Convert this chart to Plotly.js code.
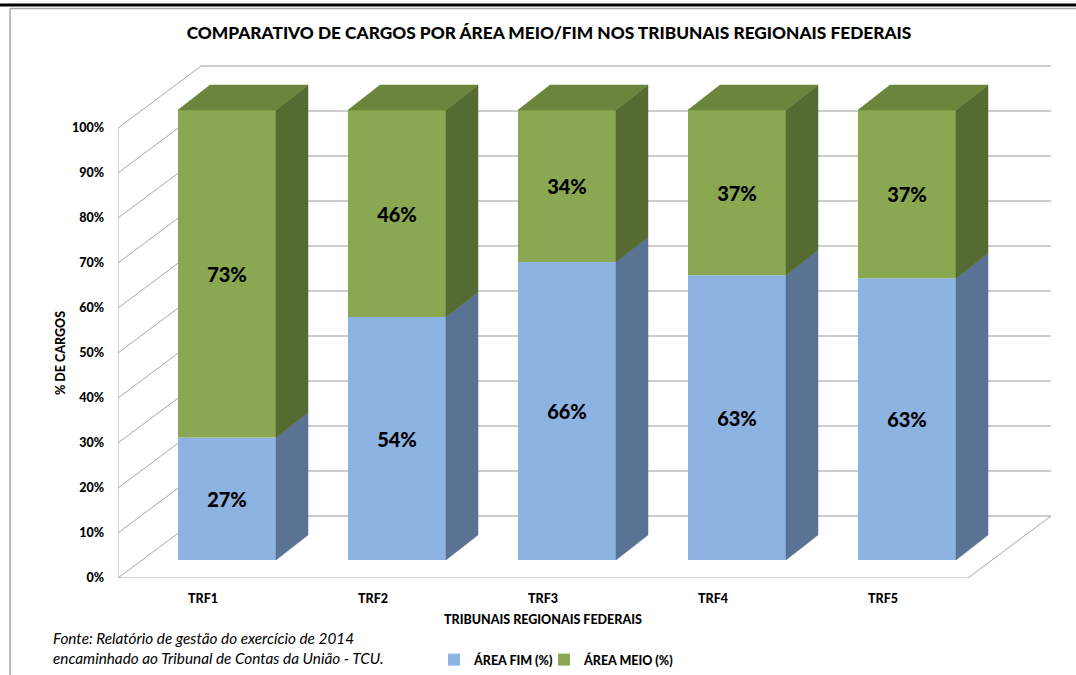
<!DOCTYPE html>
<html><head><meta charset="utf-8">
<script src="https://cdn.plot.ly/plotly-3.0.1.min.js"></script>
<style>html,body{margin:0;padding:0;background:#fff;}#chart{width:1076px;height:675px;}</style>
</head><body><div id="chart"></div>
<script>
// ---- data ----
const categories = ['TRF1', 'TRF2', 'TRF3', 'TRF4', 'TRF5'];
const areaFim = [27.2, 54.0, 66.2, 63.3, 62.6];
const areaMeio = [72.8, 46.0, 33.8, 36.7, 37.4];
const seriesNames = ['ÁREA FIM (%)', 'ÁREA MEIO (%)'];
const yTickValues = [0, 10, 20, 30, 40, 50, 60, 70, 80, 90, 100];
const yTickLabels = ['0%', '10%', '20%', '30%', '40%', '50%', '60%', '70%', '80%', '90%', '100%'];
const titleText = 'COMPARATIVO DE CARGOS POR ÁREA MEIO/FIM NOS TRIBUNAIS REGIONAIS FEDERAIS';
const xTitleText = 'TRIBUNAIS REGIONAIS FEDERAIS';
const yTitleText = '% DE CARGOS';
const sourceText = 'Fonte: Relatório de gestão do exercício de 2014<br>encaminhado ao Tribunal de Contas da União - TCU.';

// ---- layout geometry (styling) ----
const W = 1076, H = 675;
const M = {l: 118, r: 24, t: 65, b: 97};
const plotW = W - M.l - M.r, plotH = H - M.t - M.b;
const PX_CAT = 170, PX_PCT = 4.5;
const DEPTH_X = 83 / PX_CAT, DEPTH_Y = 62 / PX_PCT;       // wall depth
const FRONT_X = 24 / PX_CAT, FRONT_Y = 18 / PX_PCT;       // bar front plane
const BDX = 32 / PX_CAT, BDY = 25 / PX_PCT;               // bar depth
const BAR_W = 98 / PX_CAT;
const nCat = categories.length;
const xMax = plotW / PX_CAT, yMax = plotH / PX_PCT;
const px2paperX = p => (p - M.l) / plotW;
const px2paperY = p => (H - M.b - p) / plotH;

const colFimFront = '#8db3e2', colFimSide = '#5a7394';
const colMeioFront = '#8aa752', colMeioSide = '#566b31', colMeioTop = '#6c843b';
const FONT = 'Lato, "Open Sans", sans-serif';

const xCenters = categories.map((c, i) => i + 0.5);
const barX = xCenters.map(x => x + FRONT_X);
const fimBase = categories.map(() => FRONT_Y);
const meioBase = areaFim.map(v => FRONT_Y + v);
const pct = v => Math.round(v) + '%';

// ---- 3D side / top faces from data ----
function sideFaces(bottoms, heights) {
  const xs = [], ys = [];
  bottoms.forEach((b, i) => {
    const xr = xCenters[i] - BAR_W / 2 + FRONT_X + BAR_W;
    const y0 = b, y1 = b + heights[i];
    xs.push(xr, xr + BDX, xr + BDX, xr, xr, null);
    ys.push(y0, y0 + BDY, y1 + BDY, y1, y0, null);
  });
  return {xs, ys};
}
function topFaces(bottoms, heights) {
  const xs = [], ys = [];
  bottoms.forEach((b, i) => {
    const xl = xCenters[i] - BAR_W / 2 + FRONT_X, xr = xl + BAR_W;
    const y1 = b + heights[i];
    xs.push(xl, xl + BDX, xr + BDX, xr, xl, null);
    ys.push(y1, y1 + BDY, y1 + BDY, y1, y1, null);
  });
  return {xs, ys};
}
const fimSide = sideFaces(fimBase, areaFim);
const meioSide = sideFaces(meioBase, areaMeio);
const meioTop = topFaces(meioBase, areaMeio);

const faceTrace = (f, col) => ({
  type: 'scatter', mode: 'lines', x: f.xs, y: f.ys, fill: 'toself', fillcolor: col,
  line: {color: col, width: 0.5}, hoverinfo: 'skip', showlegend: false
});

const labelFont = {family: FONT, size: 20, color: '#000', weight: 900};
const traces = [
  {type: 'bar', name: seriesNames[0], legend: 'legend', x: barX, y: areaFim, base: fimBase, width: BAR_W,
   marker: {color: colFimFront, line: {width: 0}}, text: areaFim.map(pct),
   textposition: 'inside', insidetextanchor: 'middle', constraintext: 'none', textangle: 0,
   textfont: labelFont, hoverinfo: 'skip'},
  {type: 'bar', name: seriesNames[1], legend: 'legend2', x: barX, y: areaMeio, base: meioBase, width: BAR_W,
   marker: {color: colMeioFront, line: {width: 0}}, text: areaMeio.map(pct),
   textposition: 'inside', insidetextanchor: 'middle', constraintext: 'none', textangle: 0,
   textfont: labelFont, hoverinfo: 'skip'},
  faceTrace(fimSide, colFimSide),
  faceTrace(meioSide, colMeioSide),
  faceTrace(meioTop, colMeioTop)
];

// ---- walls / grid as shapes below traces ----
const shapes = [];
const gridCol = '#bdbdbd', wallCol = '#a6a6a6';
yTickValues.forEach(v => {
  shapes.push({type: 'line', layer: 'below', xref: 'x', yref: 'y',
    x0: DEPTH_X, y0: v + DEPTH_Y, x1: nCat + DEPTH_X, y1: v + DEPTH_Y,
    line: {color: gridCol, width: 1.6}});
  shapes.push({type: 'line', layer: 'below', xref: 'x', yref: 'y',
    x0: 0, y0: v, x1: DEPTH_X, y1: v + DEPTH_Y, line: {color: wallCol, width: 1}});
});
const yTop = yTickValues[yTickValues.length - 1];
shapes.push({type: 'line', layer: 'below', xref: 'x', yref: 'y', x0: 0, y0: 0, x1: 0, y1: yTop,
  line: {color: wallCol, width: 1}});
shapes.push({type: 'line', layer: 'below', xref: 'x', yref: 'y', x0: 0, y0: 0, x1: nCat, y1: 0,
  line: {color: wallCol, width: 1.2}});
shapes.push({type: 'line', layer: 'below', xref: 'x', yref: 'y', x0: nCat, y0: 0, x1: nCat + DEPTH_X, y1: DEPTH_Y,
  line: {color: wallCol, width: 1}});
// outer frame decorations
shapes.push({type: 'line', xref: 'paper', yref: 'paper', x0: px2paperX(0), x1: px2paperX(W),
  y0: px2paperY(5), y1: px2paperY(5), line: {color: '#000', width: 3}});
shapes.push({type: 'line', xref: 'paper', yref: 'paper', x0: px2paperX(10), x1: px2paperX(W),
  y0: px2paperY(8.5), y1: px2paperY(8.5), line: {color: '#a8a8a8', width: 1.5}});
shapes.push({type: 'line', xref: 'paper', yref: 'paper', x0: px2paperX(10), x1: px2paperX(10),
  y0: px2paperY(8.5), y1: px2paperY(H), line: {color: '#a8a8a8', width: 1.5}});

const axFont = {family: FONT, size: 12.5, color: '#000', weight: 900};
const legFont = {family: FONT, size: 12.5, color: '#000', weight: 900};
const legBase = {orientation: 'h', xref: 'container', yref: 'container', xanchor: 'left',
  y: 1 - 660 / H, yanchor: 'middle', font: legFont, itemwidth: 30, bgcolor: 'rgba(0,0,0,0)'};
const layout = {
  width: W, height: H, margin: M, paper_bgcolor: '#fff', plot_bgcolor: 'rgba(0,0,0,0)',
  barmode: 'overlay', showlegend: true,
  title: {text: titleText, xref: 'container', yref: 'container',
    x: 549 / W, xanchor: 'center', y: 1 - 33 / H, yanchor: 'middle',
    font: {family: FONT, size: 17.3, color: '#000', weight: 900}},
  xaxis: {range: [0, xMax], fixedrange: true, showgrid: false, zeroline: false, showline: false,
    tickvals: xCenters, ticktext: categories, ticks: '',
    ticklabelstandoff: 11, tickfont: axFont},
  yaxis: {range: [0, yMax], fixedrange: true, showgrid: false, zeroline: false, showline: false,
    tickvals: yTickValues, ticktext: yTickLabels, ticks: '',
    ticklabelstandoff: 13, tickfont: axFont},
  legend: Object.assign({}, legBase, {x: 434 / W}),
  legend2: Object.assign({}, legBase, {x: 544 / W}),
  annotations: [
    {text: yTitleText, xref: 'paper', yref: 'y', x: px2paperX(60), y: 50, xanchor: 'center', yanchor: 'middle',
     textangle: -90, showarrow: false, font: axFont},
    {text: xTitleText, xref: 'x', yref: 'paper', x: nCat / 2, y: px2paperY(619), xanchor: 'center', yanchor: 'middle',
     showarrow: false, font: axFont},
    {text: sourceText, xref: 'paper', yref: 'paper', x: px2paperX(51), xanchor: 'left',
     y: px2paperY(647.5), yanchor: 'middle', align: 'left', showarrow: false,
     font: {family: FONT, size: 15.3, color: '#000', style: 'italic'}}
  ],
  shapes: shapes
};

Plotly.newPlot('chart', traces, layout, {staticPlot: true, displayModeBar: false});
</script>
</body></html>
